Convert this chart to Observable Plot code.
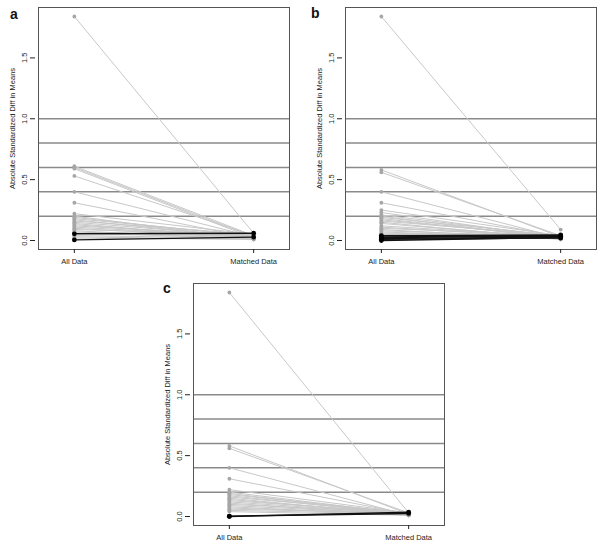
<!DOCTYPE html>
<html>
<head>
<meta charset="utf-8">
<script src="https://cdn.jsdelivr.net/npm/d3@7"></script>
<script src="https://cdn.jsdelivr.net/npm/@observablehq/plot@0.6"></script>
<style>
  html, body { margin: 0; padding: 0; background: #fff; }
  body { width: 604px; height: 548px; position: relative; overflow: hidden; font-family: "Liberation Sans", Arial, sans-serif; }
  .panel { position: absolute; z-index: 1; }
  .letter { position: absolute; z-index: 2; font-weight: bold; font-size: 14px; font-family: "Liberation Sans", Arial, sans-serif; color: #111; }
</style>
</head>
<body>
<div id="pa" class="panel" style="left:0px;top:0px;"></div>
<div id="pb" class="panel" style="left:307px;top:0px;"></div>
<div id="pc" class="panel" style="left:155px;top:276px;"></div>
<div class="letter" style="left:10px;top:6px;">a</div>
<div class="letter" style="left:311px;top:5px;">b</div>
<div class="letter" style="left:163px;top:280px;">c</div>
<script>
// x positions and labels
const xPositions = [1, 2];
const xLabels = ["All Data", "Matched Data"];
const yTicks = [0, 0.5, 1.0, 1.5];
const refLines = [0.2, 0.4, 0.6, 0.8, 1.0];
const yTitle = "Absolute Standardized Diff in Means";

// Panel a
const aGreyAll     = [1.84, 0.61, 0.60, 0.59, 0.53, 0.40, 0.31, 0.22, 0.20, 0.19, 0.18, 0.17, 0.16, 0.15, 0.14, 0.13, 0.12, 0.11, 0.10, 0.09, 0.08, 0.07, 0.06, 0.04, 0.03, 0.02];
const aGreyMatched = [0.06, 0.04, 0.03, 0.02, 0.04, 0.03, 0.02, 0.05, 0.01, 0.03, 0.04, 0.02, 0.05, 0.03, 0.01, 0.02, 0.04, 0.03, 0.02, 0.05, 0.01, 0.03, 0.02, 0.02, 0.01, 0.01];
const aBlackAll     = [0.055, 0.005];
const aBlackMatched = [0.060, 0.028];

// Panel b
const bGreyAll     = [1.84, 0.58, 0.56, 0.40, 0.31, 0.25, 0.23, 0.21, 0.20, 0.19, 0.18, 0.17, 0.16, 0.15, 0.14, 0.12, 0.11, 0.10, 0.09, 0.08, 0.07, 0.06, 0.05];
const bGreyMatched = [0.09, 0.03, 0.04, 0.02, 0.03, 0.04, 0.02, 0.03, 0.01, 0.04, 0.02, 0.03, 0.04, 0.01, 0.02, 0.03, 0.02, 0.04, 0.01, 0.03, 0.02, 0.04, 0.03];
const bBlackAll     = [0.040, 0.030, 0.025, 0.015, 0.010, 0.000];
const bBlackMatched = [0.045, 0.040, 0.035, 0.030, 0.020, 0.025];

// Panel c
const cGreyAll     = [1.84, 0.58, 0.56, 0.40, 0.31, 0.22, 0.20, 0.19, 0.18, 0.17, 0.16, 0.15, 0.14, 0.13, 0.12, 0.11, 0.10, 0.09, 0.08, 0.07, 0.06, 0.05, 0.04];
const cGreyMatched = [0.03, 0.02, 0.03, 0.01, 0.02, 0.03, 0.02, 0.01, 0.03, 0.02, 0.03, 0.01, 0.02, 0.03, 0.02, 0.01, 0.03, 0.02, 0.01, 0.02, 0.03, 0.02, 0.01];
const cBlackAll     = [0.000, 0.003];
const cBlackMatched = [0.035, 0.025];

function pairs(all, matched) {
  return all.map((v, i) => ({ y1: v, y2: matched[i] }));
}
function points(all, matched) {
  return [
    ...all.map(v => ({ x: xPositions[0], y: v })),
    ...matched.map(v => ({ x: xPositions[1], y: v }))
  ];
}

function panel(greyAll, greyMatched, blackAll, blackMatched, width) {
  const grey = pairs(greyAll, greyMatched);
  const black = pairs(blackAll, blackMatched);
  return Plot.plot({
    width: width,
    height: 270,
    marginLeft: 38,
    marginRight: width - 38 - 251,
    marginTop: 7,
    marginBottom: 21,
    style: { fontFamily: "'Liberation Sans', Arial, sans-serif", fontSize: "7.5px", color: "#222", background: "white" },
    x: { domain: [0.8, 2.2] },
    y: { domain: [-0.074, 1.914] },
    marks: [
      Plot.ruleY(refLines, { stroke: "#8a8a8a", strokeWidth: 1.5 }),
      Plot.link(grey, { x1: () => xPositions[0], x2: () => xPositions[1], y1: "y1", y2: "y2", stroke: "#c8c8c8", strokeWidth: 1 }),
      Plot.dot(points(greyAll, greyMatched), { x: "x", y: "y", r: 1.9, fill: "#a6a6a6", stroke: "none" }),
      Plot.link(black, { x1: () => xPositions[0], x2: () => xPositions[1], y1: "y1", y2: "y2", stroke: "#111", strokeWidth: 1.4 }),
      Plot.dot(points(blackAll, blackMatched), { x: "x", y: "y", r: 2.4, fill: "#000", stroke: "none" }),
      Plot.frame({ stroke: "#555", strokeWidth: 1 }),
      Plot.axisY({ ticks: yTicks, tickFormat: d3.format(".1f"), tickSize: 5, tickRotate: -90, textAnchor: "middle", dx: -3, label: yTitle, labelAnchor: "center", labelArrow: "none", labelOffset: 29, fontSize: 7.5 }),
      Plot.axisX({ ticks: xPositions, tickFormat: d => xLabels[xPositions.indexOf(d)], tickSize: 4, label: null, fontSize: 7.5 })
    ]
  });
}

document.getElementById("pa").appendChild(panel(aGreyAll, aGreyMatched, aBlackAll, aBlackMatched, 300));
document.getElementById("pb").appendChild(panel(bGreyAll, bGreyMatched, bBlackAll, bBlackMatched, 297));
document.getElementById("pc").appendChild(panel(cGreyAll, cGreyMatched, cBlackAll, cBlackMatched, 303));
</script>
</body>
</html>
